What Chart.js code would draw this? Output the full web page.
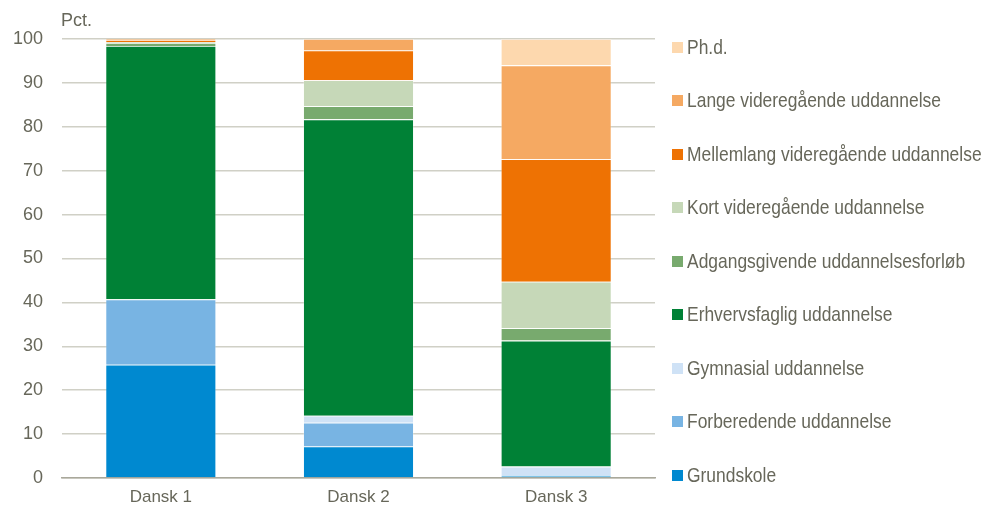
<!DOCTYPE html>
<html>
<head>
<meta charset="utf-8">
<script src="https://cdn.jsdelivr.net/npm/chart.js@4.4.1/dist/chart.umd.min.js"></script>
<style>
    html, body { margin: 0; padding: 0; background: #fff; }
    #wrap { position: relative; width: 983px; height: 513px; }
    #legend { position: absolute; left: 672px; top: 0; }
    .item { position: absolute; left: 0; white-space: nowrap; height: 24px; line-height: 24px;
        font-family: "Liberation Sans", Arial, sans-serif; font-size: 21px; color: #67675a; }
    .item .box { position: absolute; left: 0; top: 7px; width: 11px; height: 11px; }
    .item .txt { position: absolute; left: 15px; top: 0; transform: scaleX(0.83); transform-origin: 0 50%; }
</style>
</head>
<body>
<div id="wrap">
    <canvas id="chart" width="983" height="513"></canvas>
    <div id="legend"></div>
</div>
<script>
const categories = ['Dansk 1', 'Dansk 2', 'Dansk 3'];

const grundskole   = [25.8, 7.2, 0.5];
const forberedende = [14.9, 5.4, 0.2];
const gymnasial    = [0.0, 1.6, 1.9];
const erhvervsfaglig = [57.7, 67.5, 28.7];
const adgangsgivende = [0.7, 3.0, 2.8];
const kortVid      = [0.2, 5.9, 10.6];
const mellemVid    = [0.5, 6.8, 27.9];
const langeVid     = [0.2, 2.6, 21.4];
const phd          = [0.0, 0.0, 6.0];

const yTicks = [0, 10, 20, 30, 40, 50, 60, 70, 80, 90, 100];

const series = [
    { label: 'Grundskole', data: grundskole, color: '#0089d0' },
    { label: 'Forberedende uddannelse', data: forberedende, color: '#78b4e3' },
    { label: 'Gymnasial uddannelse', data: gymnasial, color: '#cfe2f6' },
    { label: 'Erhvervsfaglig uddannelse', data: erhvervsfaglig, color: '#008136' },
    { label: 'Adgangsgivende uddannelsesforløb', data: adgangsgivende, color: '#78aa6e' },
    { label: 'Kort videregående uddannelse', data: kortVid, color: '#c6d8b8' },
    { label: 'Mellemlang videregående uddannelse', data: mellemVid, color: '#ee7203' },
    { label: 'Lange videregående uddannelse', data: langeVid, color: '#f5a962' },
    { label: 'Ph.d.', data: phd, color: '#fdd8ae' }
];

const FONT = '"Liberation Sans", Arial, sans-serif';
const TEXT = '#67675a';

// "Pct." over the y axis
const unitLabel = {
    id: 'unitLabel',
    afterDraw(chart) {
        const ctx = chart.ctx;
        ctx.save();
        ctx.font = '18px ' + FONT;
        ctx.fillStyle = TEXT;
        ctx.textBaseline = 'middle';
        ctx.textAlign = 'left';
        ctx.fillText('Pct.', chart.chartArea.left - 1, 21);
        ctx.restore();
    }
};

new Chart(document.getElementById('chart'), {
    type: 'bar',
    data: {
        labels: categories,
        datasets: series.map(s => ({
            label: s.label,
            data: s.data,
            backgroundColor: s.color,
            borderColor: 'rgba(255,255,255,0.35)',
            borderWidth: 0.8,
            categoryPercentage: 1,
            barPercentage: 0.56
        }))
    },
    options: {
        responsive: false,
        animation: false,
        layout: { padding: { top: 39, right: 328, left: 0, bottom: 0 } },
        plugins: { legend: { display: false }, tooltip: { enabled: false } },
        scales: {
            x: {
                stacked: true,
                grid: { display: false, drawTicks: false },
                border: { color: '#a9a89b', width: 1.5 },
                ticks: { color: TEXT, font: { family: FONT, size: 17 }, padding: 9 },
                afterFit(scale) { scale.height = 35; }
            },
            y: {
                stacked: true,
                min: 0,
                max: 100,
                afterBuildTicks(scale) { scale.ticks = yTicks.map(v => ({ value: v })); },
                grid: { color: '#d0d0c6', lineWidth: 1.5, drawTicks: false },
                border: { display: false },
                ticks: { color: TEXT, font: { family: FONT, size: 18 }, padding: 19 },
                afterFit(scale) { scale.width = 62; }
            }
        }
    },
    plugins: [unitLabel]
});

// legend, top item is the last series
const legend = document.getElementById('legend');
series.slice().reverse().forEach((s, i) => {
    const div = document.createElement('div');
    div.className = 'item';
    div.style.top = (46.7 + i * 53.5 - 12) + 'px';
    div.innerHTML = '<span class="box" style="background:' + s.color + '"></span>' +
        '<span class="txt">' + s.label + '</span>';
    legend.appendChild(div);
});
</script>
</body>
</html>
